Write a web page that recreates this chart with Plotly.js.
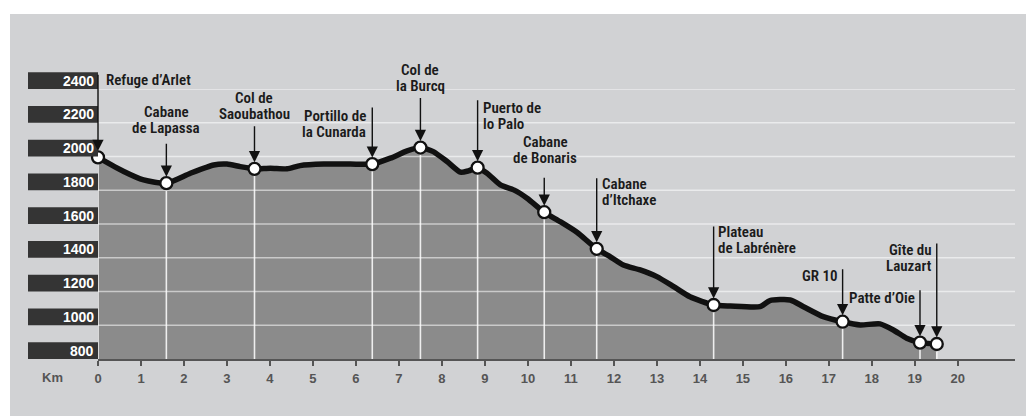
<!DOCTYPE html>
<html>
<head>
<meta charset="utf-8">
<script src="https://cdn.plot.ly/plotly-3.0.1.min.js"></script>
<style>
  html, body { margin: 0; padding: 0; background: #ffffff; }
  #chart { width: 1036px; height: 416px; }
</style>
</head>
<body>
<div id="chart"></div>
<script>
// ---- data ----
const yTicks = [800, 1000, 1200, 1400, 1600, 1800, 2000, 2200, 2400];
const xTicks = [0, 1, 2, 3, 4, 5, 6, 7, 8, 9, 10, 11, 12, 13, 14, 15, 16, 17, 18, 19, 20];
const xAxisLabel = "Km";

const profileKm = [0, 0.60, 1.06, 1.59, 2.15, 2.69, 3.00, 3.31, 3.64, 4.01, 4.40, 4.70, 5.25, 5.87, 6.38,
  6.80, 7.19, 7.50, 7.80, 8.12, 8.43, 8.62, 8.83, 9.05, 9.36, 9.67, 9.98, 10.38, 10.75, 11.14, 11.60,
  11.91, 12.22, 12.61, 13.00, 13.39, 13.77, 14.32, 14.71, 15.40, 15.63, 16.10, 16.41, 16.87, 17.32,
  17.73, 18.19, 18.50, 18.81, 19.12, 19.51];
const profileElev = [1995, 1911, 1861, 1842, 1901, 1950, 1955, 1940, 1927, 1931, 1927, 1946, 1955, 1955, 1955,
  1990, 2033, 2053, 2029, 1970, 1907, 1915, 1934, 1901, 1832, 1802, 1753, 1670, 1614, 1551, 1453,
  1407, 1357, 1328, 1288, 1229, 1169, 1120, 1114, 1110, 1146, 1150, 1110, 1051, 1021,
  1002, 1008, 972, 923, 897, 889];

const stopNames = ["Refuge d’Arlet", "Cabane\nde Lapassa", "Col de\nSaoubathou", "Portillo de\nla Cunarda",
  "Col de\nla Burcq", "Puerto de\nlo Palo", "Cabane\nde Bonaris", "Cabane\nd’Itchaxe",
  "Plateau\nde Labrénère", "GR 10", "Patte d’Oie", "Gîte du\nLauzart"];
const stopKm = [0, 1.59, 3.64, 6.38, 7.50, 8.83, 10.38, 11.60, 14.32, 17.32, 19.12, 19.51];
const stopElev = [1995, 1842, 1927, 1955, 2053, 1934, 1670, 1453, 1120, 1021, 897, 889];

// ---- label placement (pixels relative to each stop marker) ----
const labelStyle = [
  {anchor: "left",   dx: 6,  dy: -77,   arrow: -84},
  {anchor: "center", dx: 0,  dy: -71.6, arrow: -41},
  {anchor: "center", dx: 0,  dy: -70.7, arrow: -44},
  {anchor: "right",  dx: -4, dy: -47.6, arrow: -58},
  {anchor: "center", dx: 0,  dy: -77.7, arrow: -51},
  {anchor: "left",   dx: 3,  dy: -60,   arrow: -69},
  {anchor: "center", dx: 1,  dy: -70.6, arrow: -36},
  {anchor: "left",   dx: 3,  dy: -64.8, arrow: -72},
  {anchor: "left",   dx: 2,  dy: -72.7, arrow: -80},
  {anchor: "right",  dx: -3, dy: -45.7, arrow: -54},
  {anchor: "right",  dx: -3, dy: -45,   arrow: -54},
  {anchor: "right",  dx: -3, dy: -94,   arrow: -102}
];

// ---- geometry ----
const W = 1036, H = 416;
const M = {l: 98, r: 21, t: 89, b: 57};
const PW = W - M.l - M.r, PH = H - M.t - M.b;
const xRange = [0, 21.33];
const yRange = [yTicks[0], yTicks[yTicks.length - 1]];
const pxX = px => (px - M.l) / PW;
const pxY = py => (H - M.b - py) / PH;
const valY = v => (v - yRange[0]) / (yRange[1] - yRange[0]);

const labelFont = {family: "'Roboto Condensed', 'DejaVu Sans Condensed', sans-serif", size: 15, color: "#1b1b1b", weight: 600};
const LINE_GAP = 16;

// ---- traces ----
const fillTrace = {
  x: profileKm, y: profileElev, type: "scatter", mode: "lines",
  line: {width: 0, shape: "spline", smoothing: 0.6}, fill: "tozeroy", fillcolor: "#8b8b8b",
  hoverinfo: "skip", showlegend: false
};

const gx = [], gy = [];
yTicks.slice(1).forEach(v => { gx.push(xRange[0], xRange[1], null); gy.push(v, v, null); });
const gridTrace = {
  x: gx, y: gy, type: "scatter", mode: "lines", cliponaxis: false,
  line: {color: "rgba(255,255,255,0.55)", width: 1.6}, hoverinfo: "skip", showlegend: false
};

const dx = [], dy = [];
stopKm.forEach((k, i) => { dx.push(k, k, null); dy.push(stopElev[i], yRange[0], null); });
const dropTrace = {
  x: dx, y: dy, type: "scatter", mode: "lines",
  line: {color: "rgba(255,255,255,0.85)", width: 1.6}, hoverinfo: "skip", showlegend: false
};

const lineTrace = {
  x: profileKm, y: profileElev, type: "scatter", mode: "lines",
  line: {color: "#111111", width: 5.5, shape: "spline", smoothing: 0.6},
  cliponaxis: false, hoverinfo: "skip", showlegend: false
};

const markerTrace = {
  x: stopKm, y: stopElev, type: "scatter", mode: "markers",
  marker: {size: 12, color: "#ffffff", line: {color: "#111111", width: 2.3}},
  cliponaxis: false, text: stopNames, hoverinfo: "text", showlegend: false
};

// ---- annotations & shapes ----
const annotations = [];
const shapes = [];

shapes.push({type: "rect", xref: "paper", yref: "paper", layer: "below",
  x0: pxX(10), x1: pxX(1026), y0: pxY(416), y1: pxY(14),
  fillcolor: "#d1d2d4", line: {width: 0}});

yTicks.forEach(v => {
  shapes.push({type: "rect", xref: "paper", yref: "paper", layer: "above",
    x0: pxX(28), x1: 0, y0: valY(v), y1: valY(v + 100), fillcolor: "#343434", line: {width: 0}});
  annotations.push({text: String(v), xref: "paper", yref: "paper", x: 0, y: valY(v + 50),
    xanchor: "right", yanchor: "middle", xshift: -2, showarrow: false,
    font: {family: "'Liberation Sans', Arial, sans-serif", size: 14, color: "#ffffff", weight: "bold"}});
});

annotations.push({text: xAxisLabel, xref: "paper", yref: "paper", x: pxX(52), y: 0,
  xanchor: "center", yanchor: "middle", yshift: -18, showarrow: false,
  font: {family: "'Liberation Sans', Arial, sans-serif", size: 13, color: "#555555", weight: "bold"}});

stopNames.forEach((name, i) => {
  const s = labelStyle[i];
  annotations.push({text: "", x: stopKm[i], y: stopElev[i], xref: "x", yref: "y",
    showarrow: true, ax: 0, ay: s.arrow, axref: "pixel", ayref: "pixel",
    arrowhead: 2, arrowsize: 1.6, arrowwidth: 1.4, arrowcolor: "#111111", standoff: 6.5});
  name.split("\n").forEach((ln, j) => {
    annotations.push({text: ln, x: stopKm[i], y: stopElev[i], xref: "x", yref: "y",
      showarrow: false, xanchor: s.anchor, yanchor: "middle",
      xshift: s.dx, yshift: -(s.dy + j * LINE_GAP), font: labelFont});
  });
});

const layout = {
  width: W, height: H,
  margin: M,
  paper_bgcolor: "#ffffff",
  plot_bgcolor: "rgba(0,0,0,0)",
  showlegend: false,
  xaxis: {
    range: xRange, tickmode: "array", tickvals: xTicks, ticktext: xTicks.map(String),
    showgrid: false, zeroline: false, showline: true, linecolor: "#555555", linewidth: 2,
    ticks: "outside", ticklen: 5, tickwidth: 1.5, tickcolor: "#555555", ticklabelstandoff: 1,
    tickfont: {family: "'Liberation Sans', Arial, sans-serif", size: 13, color: "#555555", weight: "bold"},
    fixedrange: true
  },
  yaxis: {
    range: yRange, showgrid: false, zeroline: false, showline: false,
    showticklabels: false, ticks: "", fixedrange: true
  },
  shapes: shapes,
  annotations: annotations
};

Plotly.newPlot("chart", [fillTrace, gridTrace, dropTrace, lineTrace, markerTrace], layout,
  {displayModeBar: false, staticPlot: true});
</script>
</body>
</html>
